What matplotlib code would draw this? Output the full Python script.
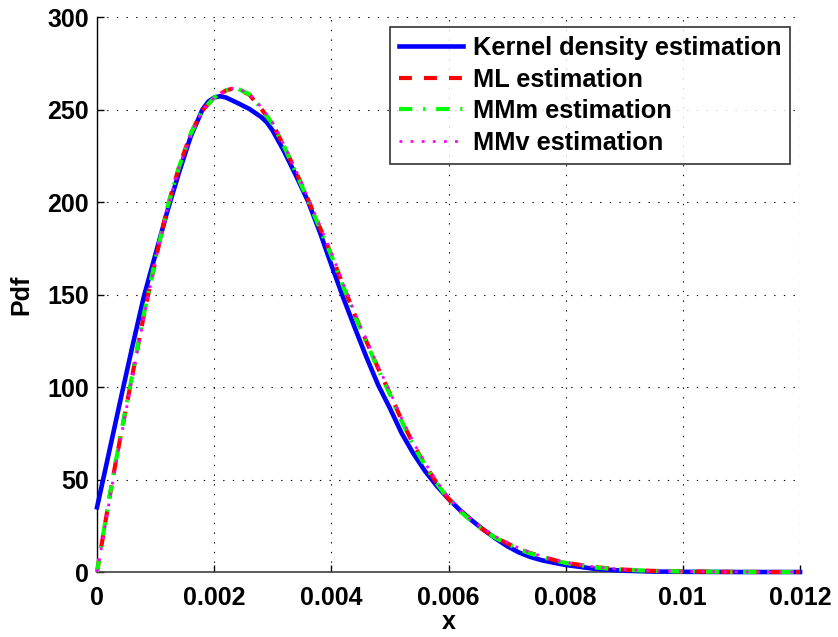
import matplotlib
matplotlib.use("Agg")
import matplotlib.pyplot as plt

plt.rcParams['font.family'] = ['Liberation Sans', 'DejaVu Sans']
plt.rcParams['font.weight'] = 'bold'

# Kernel density estimate
x_kde = [0, 0.0002, 0.0004, 0.0006, 0.0008, 0.001, 0.0012, 0.0014, 0.0016,
         0.0018, 0.0019, 0.002, 0.0021, 0.0022, 0.0024, 0.0026, 0.0028, 0.0029,
         0.003, 0.0032, 0.0034, 0.0036, 0.0038, 0.004, 0.0042, 0.0044, 0.0046,
         0.0048, 0.005, 0.0052, 0.0054, 0.0056, 0.0058, 0.006, 0.0062, 0.0064,
         0.0066, 0.0068, 0.007, 0.0072, 0.0074, 0.0076, 0.0078, 0.008, 0.0085,
         0.009, 0.0095, 0.01, 0.011, 0.012]
y_kde = [35, 64, 93, 121.5, 149, 172, 195, 216, 235.5,
         250, 254.3, 256.5, 257.2, 256.5, 253.5, 250.3, 246, 243,
         238.5, 227, 214, 200.5, 184, 166, 148.5, 132, 116,
         101, 88.5, 75, 64, 54.5, 46.5, 39.5, 33.3, 27.8,
         22.8, 18.2, 14, 10.6, 8.1, 6.3, 5, 3.8, 1.7,
         0.7, 0.25, 0.1, 0, 0]

# Parametric fits
x_fit = [0, 0.0001, 0.0002, 0.0003, 0.0004, 0.0006, 0.0008, 0.001, 0.0012,
         0.0014, 0.0016, 0.0018, 0.002, 0.0022, 0.0023, 0.0024, 0.0026, 0.0028,
         0.003, 0.0032, 0.0034, 0.0036, 0.0038, 0.004, 0.0042, 0.0044, 0.0046,
         0.0048, 0.005, 0.0052, 0.0054, 0.0056, 0.0058, 0.006, 0.0062, 0.0064,
         0.0066, 0.0068, 0.007, 0.0072, 0.0074, 0.0076, 0.0078, 0.008, 0.0085,
         0.009, 0.0095, 0.01, 0.011, 0.012]
y_ml = [0, 19, 38, 56, 73, 106, 139, 169, 197,
        219, 237, 249.5, 256.5, 260.3, 261.2, 261.2, 258, 250.5,
        242, 229.5, 216, 201.5, 186.5, 171.5, 155, 139, 124.5,
        110, 96.5, 82, 69, 58, 48, 39.5, 33, 27.5,
        22.7, 18.7, 15.5, 12.5, 10.2, 8.3, 6.5, 5, 2.6,
        1.3, 0.6, 0.3, 0.05, 0]
y_mmm = [0, 19.5, 38.5, 56.5, 73.5, 106.5, 139.5, 169.5, 197,
         219, 237, 249.5, 256.5, 260.4, 261.3, 261.3, 258.2, 250.8,
         242, 229.5, 215.5, 201, 186, 171, 154.5, 138.5, 124,
         109.5, 96, 81.5, 68.5, 57.5, 47.8, 39.3, 32.8, 27.3,
         22.5, 18.5, 15.3, 12.3, 10, 8.1, 6.4, 4.9, 2.5,
         1.2, 0.6, 0.3, 0.05, 0]
y_mmv = [0, 18, 36.5, 54.5, 71.5, 104.5, 138, 168.5, 196.5,
         219, 237, 249.5, 256.5, 260.3, 261.3, 261.4, 258.5, 251.3,
         242.8, 230.3, 217, 202.5, 187.5, 172.5, 156, 140, 125.5,
         111, 97.5, 83, 70, 59, 49, 40, 33.5, 28,
         23.2, 19.2, 16, 12.9, 10.5, 8.5, 6.7, 5.2, 2.7,
         1.3, 0.6, 0.3, 0.05, 0]

labels = ['Kernel density estimation', 'ML estimation',
          'MMm estimation', 'MMv estimation']
xticks = [0, 0.002, 0.004, 0.006, 0.008, 0.01, 0.012]
xtick_labels = ['0', '0.002', '0.004', '0.006', '0.008', '0.01', '0.012']
yticks = [0, 50, 100, 150, 200, 250, 300]

fig = plt.figure(figsize=(8.38, 6.37), dpi=100)
ax = fig.add_axes([0.1158, 0.102, 0.8389, 0.8713])

ax.plot(x_kde, y_kde, color='#0000ff', lw=3.3, label=labels[0],
        clip_on=False, zorder=3, solid_joinstyle='round')
ax.plot(x_fit, y_ml, color='#ff0000', lw=3.0, dashes=(3.1, 2.9),
        label=labels[1], clip_on=False, zorder=4)
ax.plot(x_fit, y_mmm, color='#00ff00', lw=3.0, dashes=(3.2, 2.6, 0.5, 2.6),
        label=labels[2], clip_on=False, zorder=5)
ax.plot(x_fit, y_mmv, color='#ff00ff', lw=2.0, dashes=(1.0, 3.0),
        label=labels[3], clip_on=False, zorder=6)

ax.set_xlim(0, 0.012)
ax.set_ylim(0, 300)
ax.set_xticks(xticks)
ax.set_xticklabels(xtick_labels)
ax.set_yticks(yticks)
ax.tick_params(axis='both', direction='in', length=5, width=1,
               labelsize=18, top=False, right=False)
ax.tick_params(axis='x', pad=10)
ax.tick_params(axis='y', pad=6)
for lab in ax.get_xticklabels() + ax.get_yticklabels():
    lab.set_fontweight('bold')

ax.grid(True, color='black', lw=0.8, linestyle=(0, (1.2, 7.5)), zorder=0)
ax.set_axisbelow(True)
ax.spines['top'].set_visible(False)
ax.spines['right'].set_visible(False)
ax.spines['left'].set_linewidth(1.0)
ax.spines['bottom'].set_linewidth(1.2)
ax.spines['bottom'].set_color('#404040')

ax.set_xlabel('x', fontsize=18, fontweight='bold', labelpad=0)
ax.set_ylabel('Pdf', fontsize=18, fontweight='bold', labelpad=10)

leg = ax.legend(loc='upper right', bbox_to_anchor=(0.986, 0.982),
                prop={'size': 18.3, 'weight': 'bold'}, frameon=True,
                fancybox=False, shadow=False,
                handlelength=2.5, handletextpad=0.4, labelspacing=0.3,
                borderpad=0.35, borderaxespad=0)
leg.get_frame().set_edgecolor('black')
leg.get_frame().set_linewidth(1.2)

fig.savefig('out.png', dpi=100)
